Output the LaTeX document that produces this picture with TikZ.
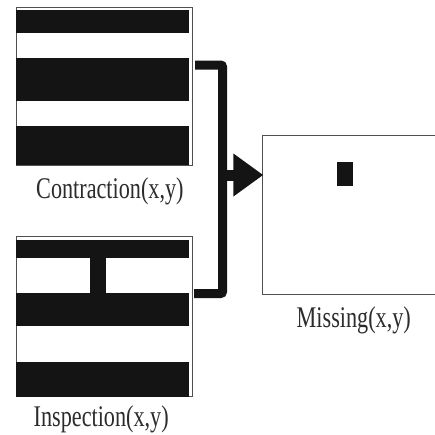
\documentclass[tikz,border=0pt]{standalone}
\usepackage{fontspec}
\usetikzlibrary{arrows.meta}
\newfontfamily\lblfont[FakeStretch=0.74]{Liberation Serif}
\definecolor{ink}{HTML}{141414}
\definecolor{frame}{HTML}{505050}
\tikzset{
  panel/.style={draw=frame, line width=0.9pt},
  bar/.style={fill=ink},
  caption/.style={font=\lblfont\fontsize{30}{32}\selectfont, text=ink!90, inner sep=0pt, anchor=base west},
  bracket/.style={draw=ink, line width=9pt, rounded corners=2pt},
  feed/.style={draw=ink, line width=11pt, -{Triangle[length=30pt,width=41pt]}}
}
\begin{document}
\begin{tikzpicture}[x=1pt,y=-1pt]
\useasboundingbox (0,0) rectangle (435,434);
\clip (0,0) rectangle (435,434);
\fill[white] (0,0) rectangle (435,434);

% Contraction pattern: three horizontal bars
\draw[panel] (16,7.5) rectangle (192,165);
\fill[bar] (16,9.5) rectangle (189.3,33);
\fill[bar] (16,58.3) rectangle (189.3,101);
\fill[bar] (16,126) rectangle (189.3,165);
\node[caption] (ctext) at (36,198) {Contraction(x,y)};

% Inspection pattern: bars joined by a short stem
\draw[panel] (16,236.7) rectangle (192,396.7);
\fill[bar] (16,240) rectangle (189.3,257.5);
\fill[bar] (90,257) rectangle (106,293.5);
\fill[bar] (16,293) rectangle (189.3,326);
\fill[bar] (16,361.7) rectangle (189.3,396.7);
\node[caption] (itext) at (33.5,426) {Inspection(x,y)};

% Result: the missing cell
\draw[panel] (445,135) -- (262.3,135) -- (262.3,294.3) -- (445,294.3);
\fill[bar] (336.7,162.3) rectangle (353.3,186);
\node[caption] (mtext) at (296.5,327) {Missing(x,y)};

% Bracket joining both inputs and the arrow into the result
\coordinate (cout) at (195,65);
\coordinate (iout) at (194,293.5);
\coordinate (join) at (222.5,175);
\coordinate (tip) at (263.3,175);
\draw[bracket] (cout) -- (222.5,65) -- (222.5,293.5) -- (iout);
\draw[feed] (join) -- (tip);
\end{tikzpicture}
\end{document}
